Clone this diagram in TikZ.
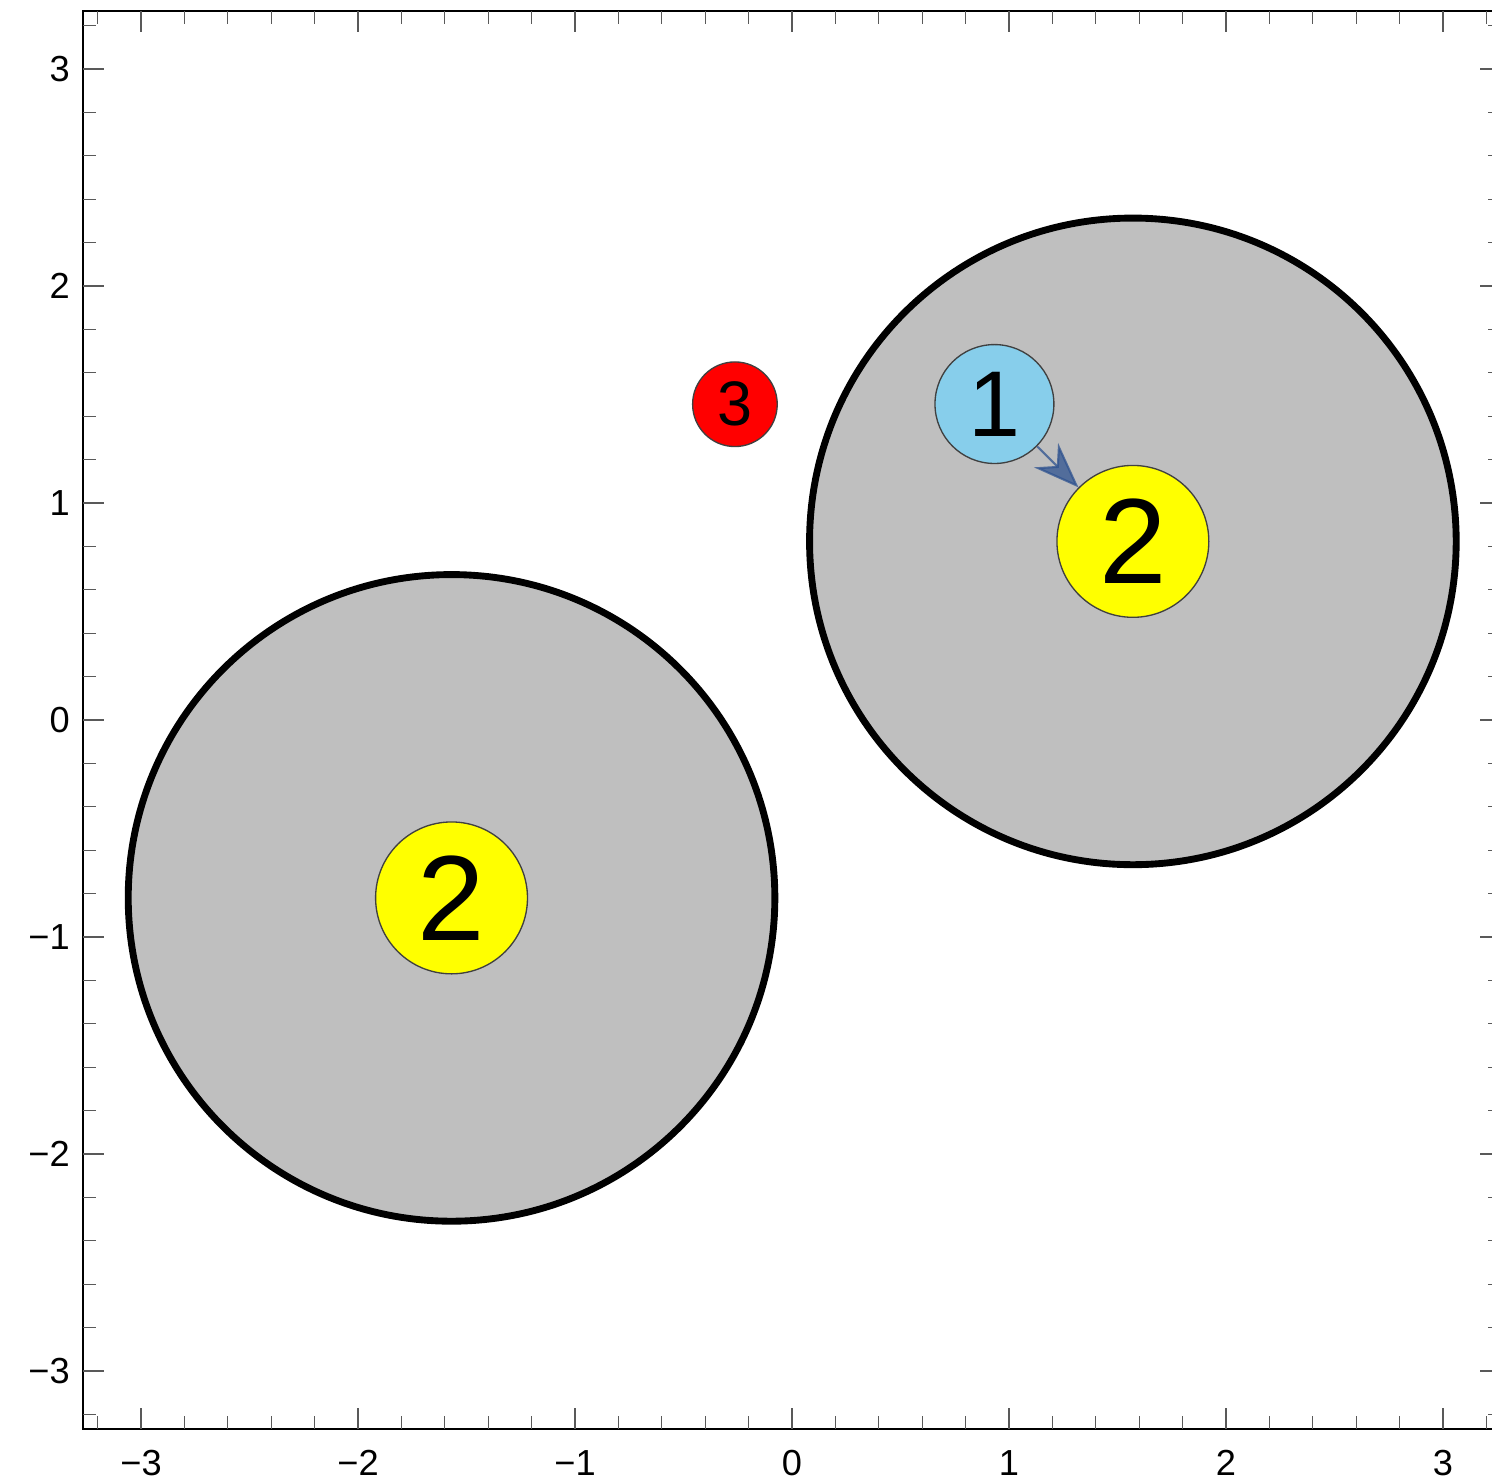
\documentclass[tikz,border=0pt]{standalone}
\usepackage{fontspec}
\setmainfont{Liberation Sans}
\usetikzlibrary{arrows.meta}
\definecolor{cellgrey}{gray}{0.75}
\definecolor{vxblue}{RGB}{135,206,235}
\definecolor{vxyellow}{RGB}{255,255,0}
\definecolor{vxred}{RGB}{255,0,0}
\definecolor{edgeblue}{rgb}{0.18,0.32,0.56}
\definecolor{tickgrey}{gray}{0.35}
\tikzset{
  cell/.style={circle,draw=black,line width=1.8pt,fill=cellgrey,minimum size=5.96cm,
               inner sep=0pt},
  vx/.style={circle,draw=black!75,line width=0.35pt,inner sep=0pt},
  ticklbl/.style={font=\fontsize{9.5}{11}\selectfont,inner sep=0pt},
  frm/.style={line width=0.4pt},
  tk/.style={line width=0.3pt,tickgrey},
}

\begin{document}
\begin{tikzpicture}[x=2cm,y=2cm,
  edge/.style={-{Stealth[length=12pt,width=9pt,inset=4pt]},line width=0.55pt,
               edgeblue,opacity=0.75}]

\useasboundingbox (-3.650,-3.516) rectangle (3.226,3.318);

% cells
\node[cell] (cellR) at (1.571,0.823) {};
\node[cell] (cellL) at (-1.569,-0.820) {};

% vertices
\node[vx,fill=vxyellow,minimum size=1.4cm,font=\fontsize{31.8}{32}\selectfont] (twoR) at (cellR) {2};
\node[vx,fill=vxyellow,minimum size=1.4cm,font=\fontsize{31.8}{32}\selectfont] (twoL) at (cellL) {2};
\node[vx,fill=vxblue,minimum size=1.096cm,font=\fontsize{24.5}{25}\selectfont] (one) at (0.933,1.456) {1};
\node[vx,fill=vxred,minimum size=0.78cm,font=\fontsize{16.5}{17}\selectfont] (three) at (-0.263,1.455) {3};

\draw[edge] (one) -- (twoR);

% frame and ticks
\def\lo{-3.267}
\def\hi{3.267}
\draw[frm] (\lo,\lo) rectangle (\hi,\hi);
\foreach \k in {-16,...,16} {
  \pgfmathsetmacro\tp{\k/5}
  \draw[tk] (\tp,\lo) -- ++(0,0.06);
  \draw[tk] (\tp,\hi) -- ++(0,-0.06);
  \draw[tk] (\lo,\tp) -- ++(0.06,0);
  \draw[tk] (\hi,\tp) -- ++(-0.06,0);
}
\foreach \v/\s in {-3/{−3},-2/{−2},-1/{−1},0/0,1/1,2/2,3/3} {
  \draw[tk] (\v,\lo) -- ++(0,0.097);
  \draw[tk] (\v,\hi) -- ++(0,-0.097);
  \draw[tk] (\lo,\v) -- ++(0.097,0);
  \draw[tk] (\hi,\v) -- ++(-0.097,0);
  \node[ticklbl,anchor=north,yshift=-5.5pt] (xl\v) at (\v,\lo) {\s};
  \node[ticklbl,anchor=east,xshift=-3.3pt] (yl\v) at (\lo,\v) {\s};
}

\end{tikzpicture}
\end{document}
